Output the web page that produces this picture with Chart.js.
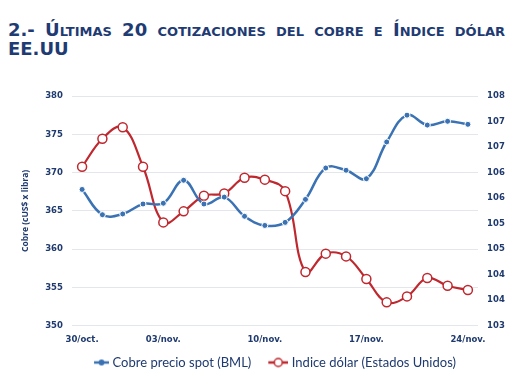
<!DOCTYPE html>
<html>
<head>
<meta charset="utf-8">
<script src="https://cdn.jsdelivr.net/npm/chart.js@4"></script>
<style>
  html, body { margin: 0; padding: 0; background: #fff; overflow: hidden; width: 510px; height: 382px; }
  #title {
    position: absolute; left: 8px; top: 20px; width: 497px;
    font-family: "DejaVu Sans", Verdana, sans-serif; font-weight: bold;
    font-size: 18px; line-height: 19px; color: #1f3b73;
    font-variant: small-caps;
  }
  #title .l1 { text-align: justify; text-align-last: justify; white-space: nowrap; }
  #wrap { position: absolute; left: 0; top: 62px; width: 524px; height: 320px; }
</style>
</head>
<body>
<div id="title"><div class="l1">2.- Últimas 20 cotizaciones del cobre e Índice dólar</div><div>EE.UU</div></div>
<div id="wrap"><canvas id="cuChart"></canvas></div>
<script>
document.addEventListener("DOMContentLoaded", function () {
    const ctx = document.getElementById('cuChart');

    const labels = ['30/oct.', '31/oct.', '01/nov.', '02/nov.', '03/nov.',
                    '06/nov.', '07/nov.', '08/nov.', '09/nov.', '10/nov.',
                    '13/nov.', '14/nov.', '15/nov.', '16/nov.', '17/nov.',
                    '20/nov.', '21/nov.', '22/nov.', '23/nov.', '24/nov.'];
    const shownLabels = ['30/oct.', '03/nov.', '10/nov.', '17/nov.', '24/nov.'];

    const cobre = [367.8, 364.5, 364.6, 365.9, 366.0, 369.0, 365.9, 366.8, 364.3, 363.1,
                   363.5, 366.5, 370.6, 370.3, 369.2, 374.0, 377.5, 376.2, 376.7, 376.3];
    const dolar = [106.46, 107.07, 107.32, 106.46, 105.25, 105.49, 105.83, 105.88, 106.22, 106.18,
                   105.93, 104.17, 104.57, 104.51, 104.02, 103.51, 103.64, 104.04, 103.87, 103.78];

    const blue = '#3a72b4';
    const red = '#bf282e';
    const navy = '#1f3a6e';

    // legend marker: short line with the point in the middle, blank space on the left
    function legendIcon(color, fill, r, len) {
      const c = document.createElement('canvas');
      c.width = 30; c.height = 12;
      const g = c.getContext('2d');
      const x0 = 30 - len;
      g.strokeStyle = color; g.lineWidth = 2.5;
      g.beginPath(); g.moveTo(x0, 6); g.lineTo(30, 6); g.stroke();
      g.beginPath(); g.arc(x0 + len / 2, 6, r, 0, Math.PI * 2);
      g.fillStyle = fill; g.fill();
      g.lineWidth = 1.5; g.stroke();
      return c;
    }

    const data = {
      labels: labels,
      datasets: [
        {
          label: 'Cobre precio spot (BML)',
          data: cobre,
          yAxisID: 'y',
          borderColor: blue,
          backgroundColor: blue,
          borderWidth: 2.5,
          pointRadius: 3,
          pointBackgroundColor: blue,
          pointBorderColor: '#ffffff',
          pointBorderWidth: 1,
          tension: 0.4
        },
        {
          label: 'Indice dólar (Estados Unidos)',
          data: dolar,
          yAxisID: 'y1',
          borderColor: red,
          backgroundColor: '#ffffff',
          borderWidth: 2.2,
          pointRadius: 4.5,
          pointBackgroundColor: '#ffffff',
          pointBorderColor: red,
          pointBorderWidth: 1.5,
          tension: 0.4
        }
      ]
    };

    const icons = [legendIcon(blue, blue, 2.2, 15), legendIcon(red, '#ffffff', 4, 20)];

    const tickFont = { family: 'DejaVu Sans', size: 8.5, weight: 'bold' };

    const options = {
      responsive: true,
      maintainAspectRatio: false,
      animation: false,
      layout: { padding: { top: 34, left: 14, right: 0, bottom: 3 } },
      scales: {
        x: {
          offset: true,
          grid: { display: false },
          border: { display: false },
          ticks: {
            autoSkip: false,
            maxRotation: 0,
            padding: 1,
            color: navy,
            font: tickFont,
            callback: function (v, i) {
              const l = labels[i];
              return shownLabels.indexOf(l) >= 0 ? l : '';
            }
          }
        },
        y: {
          position: 'left',
          min: 350, max: 380,
          ticks: { stepSize: 5, color: navy, font: tickFont, padding: 9 },
          grid: { color: '#e3e6ea', drawTicks: false },
          border: { display: false },
          title: {
            display: true, text: 'Cobre (cUS$ x libra)', color: navy,
            font: { family: 'Open Sans', size: 8.5, weight: 'bold' }, padding: 6
          }
        },
        y1: {
          position: 'right',
          min: 103, max: 108,
          ticks: {
            count: 10, color: navy, font: tickFont, padding: 9,
            callback: function (v) { return Math.round(v); }
          },
          grid: { display: false, drawTicks: false },
          border: { display: false },
          title: {
            display: true, text: 'Indice dólar (puntos)', color: navy,
            font: { family: 'Open Sans', size: 8.5, weight: 'bold' }, padding: 0
          }
        }
      },
      plugins: {
        legend: {
          position: 'bottom',
          labels: {
            usePointStyle: true,
            pointStyleWidth: 24,
            color: navy,
            padding: 10,
            font: { family: 'Lato', size: 13 },
            generateLabels: function (chart) {
              return chart.data.datasets.map(function (ds, i) {
                return {
                  text: ds.label,
                  pointStyle: icons[i],
                  fontColor: navy,
                  datasetIndex: i,
                  hidden: false,
                  lineWidth: 0
                };
              });
            }
          }
        },
        tooltip: { enabled: false }
      }
    };

    new Chart(ctx, { type: 'line', data: data, options: options });
});
</script>
</body>
</html>
